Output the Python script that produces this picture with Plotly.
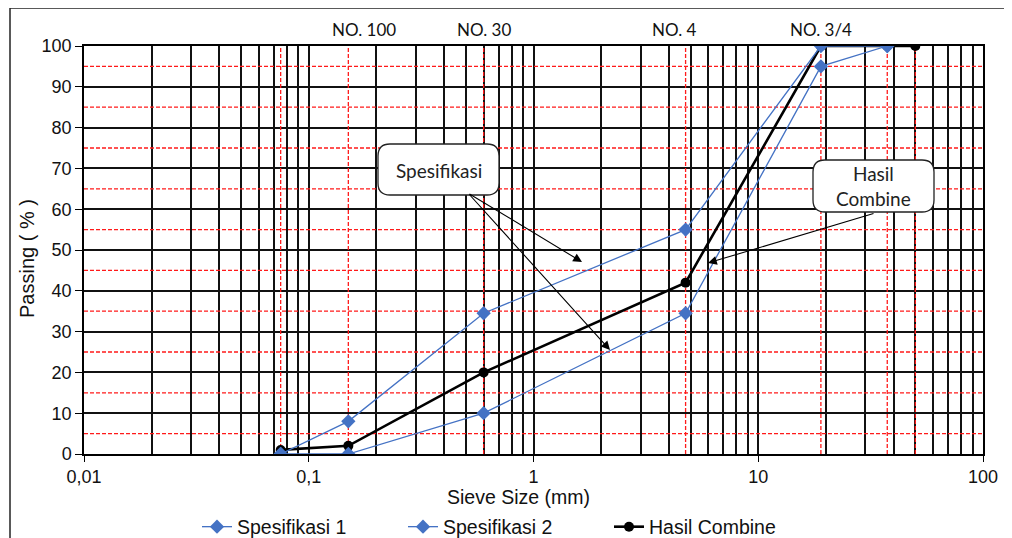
import math
import plotly.graph_objects as go

# ---- data ----
sieve_mm = [0.075, 0.15, 0.6, 4.75, 19, 37.5]
spek1 = [0, 8, 34.5, 55, 100, 100]
spek2 = [0, 0, 10, 34.5, 95, 100]
combine_mm = [0.075, 0.15, 0.6, 4.75, 19, 37.5, 50]
combine = [1, 2, 20, 42, 100, 100, 100]
ref_lines_mm = [0.075, 0.15, 0.6, 4.75, 19, 37.5, 50]
sieve_names = ["NO. 100", "NO. 30", "NO. 4", "NO. 3/4"]
sieve_name_mm = [0.15, 0.6, 4.75, 19]
x_tickvals = [0.01, 0.1, 1, 10, 100]
x_ticktext = ["0,01", "0,1", "1", "10", "100"]
y_red = [5, 15, 25, 35, 45, 55, 65, 75, 85, 95]

OFF = 8  # page body margin
W, H = 1012, 538
L, T = 84 - OFF, 46 - OFF
pw, ph = 899, 408
R = W - L - pw
B = H - T - ph

def px_x(p):
    return (p - OFF - L) / pw

def px_y(p):
    return (T + ph - (p - OFF)) / ph

fig = go.Figure()

RED = "#ff1a1a"
for v in ref_lines_mm:
    fig.add_trace(go.Scatter(x=[v, v], y=[0, 100], mode="lines",
                             line=dict(color=RED, width=1.3, dash="4px,2px"),
                             showlegend=False, hoverinfo="skip"))
for v in y_red:
    fig.add_trace(go.Scatter(x=[0.01, 100], y=[v, v], mode="lines",
                             line=dict(color=RED, width=1.3, dash="4px,2px"),
                             showlegend=False, hoverinfo="skip"))

BLUE = "#4472c4"
fig.add_trace(go.Scatter(x=combine_mm, y=combine, mode="lines+markers",
                         name="Hasil Combine",
                         line=dict(color="black", width=2.6),
                         marker=dict(symbol="circle", size=10, color="black"),
                         legendrank=3))
fig.add_trace(go.Scatter(x=sieve_mm, y=spek1, mode="lines+markers",
                         name="Spesifikasi 1",
                         line=dict(color=BLUE, width=1.3),
                         marker=dict(symbol="diamond", size=11, color=BLUE),
                         legendrank=1))
fig.add_trace(go.Scatter(x=sieve_mm, y=spek2, mode="lines+markers",
                         name="Spesifikasi 2",
                         line=dict(color=BLUE, width=1.3),
                         marker=dict(symbol="diamond", size=11, color=BLUE),
                         legendrank=2))

minor_vals = []
for e in range(-2, 2):
    for d in range(2, 10):
        minor_vals.append(d * 10 ** e)

GRID = "#111111"
fig.update_xaxes(type="log", range=[-2, 2], tickvals=x_tickvals, ticktext=x_ticktext,
                 showgrid=True, gridcolor=GRID, gridwidth=1.5,
                 minor=dict(tickvals=minor_vals, showgrid=True, gridcolor=GRID,
                            gridwidth=1.5, ticks=""),
                 ticks="outside", ticklen=6, tickcolor="black",
                 showline=True, linecolor="black", linewidth=1.5, mirror=True,
                 tickfont=dict(family="Liberation Sans, Arial", size=18, color="#111"),
                 zeroline=False, automargin=False)
fig.update_yaxes(range=[0, 100], dtick=10, showgrid=True, gridcolor=GRID, gridwidth=1.5,
                 ticks="outside", ticklen=7, tickcolor="black",
                 showline=True, linecolor="black", linewidth=1.5, mirror=True,
                 tickfont=dict(family="Liberation Sans, Arial", size=18, color="#111"),
                 zeroline=False, automargin=False)

ann = []
ann.append(dict(text="Sieve Size (mm)", xref="paper", yref="paper",
                x=px_x(518), y=px_y(497), showarrow=False,
                xanchor="center", yanchor="middle",
                font=dict(family="Liberation Sans, Arial", size=19.5, color="#111")))
ann.append(dict(text="Passing ( % )", xref="paper", yref="paper",
                x=px_x(27), y=px_y(258), showarrow=False, textangle=-90,
                xanchor="center", yanchor="middle",
                font=dict(family="Liberation Sans, Arial", size=20, color="#111")))
label_shift = [0.07, 0.0, -0.05, 0.0]
for name, v, s in zip(sieve_names, sieve_name_mm, label_shift):
    ann.append(dict(text=name, xref="x", yref="paper", x=math.log10(v) + s,
                    y=px_y(30), showarrow=False, xanchor="center", yanchor="middle",
                    font=dict(family="Lato, Open Sans", size=17, color="#111")))
ann.append(dict(text="Spesifikasi", xref="paper", yref="paper",
                x=px_x(438.5), y=px_y(170), showarrow=False,
                xanchor="center", yanchor="middle",
                font=dict(family="Lato, Open Sans", size=19, color="#222")))
ann.append(dict(text="Hasil<br>Combine", xref="paper", yref="paper",
                x=px_x(873.5), y=px_y(186), showarrow=False,
                xanchor="center", yanchor="middle",
                font=dict(family="Lato, Open Sans", size=19, color="#222")))
for hx, hy, axp, ayp in [(582, 262, -114, -69), (610, 350, -142, -157), (708, 263, 167, -50)]:
    ann.append(dict(text="", xref="paper", yref="paper", x=px_x(hx), y=px_y(hy),
                    ax=axp, ay=ayp, showarrow=True, arrowhead=2, arrowsize=1.6,
                    arrowwidth=1.1, arrowcolor="black"))

def rrect(x0, y0, x1, y1, r):
    X = lambda p: px_x(p)
    Y = lambda p: px_y(p)
    return (f"M {X(x0 + r)} {Y(y0)} L {X(x1 - r)} {Y(y0)} Q {X(x1)} {Y(y0)} {X(x1)} {Y(y0 + r)} "
            f"L {X(x1)} {Y(y1 - r)} Q {X(x1)} {Y(y1)} {X(x1 - r)} {Y(y1)} "
            f"L {X(x0 + r)} {Y(y1)} Q {X(x0)} {Y(y1)} {X(x0)} {Y(y1 - r)} "
            f"L {X(x0)} {Y(y0 + r)} Q {X(x0)} {Y(y0)} {X(x0 + r)} {Y(y0)} Z")

shapes = [
    dict(type="path", xref="paper", yref="paper", path=rrect(378, 144, 499, 195, 12),
         fillcolor="white", line=dict(color="#222", width=1.3), layer="above"),
    dict(type="path", xref="paper", yref="paper", path=rrect(813, 160, 934, 212, 12),
         fillcolor="white", line=dict(color="#222", width=1.3), layer="above"),
    dict(type="line", xref="paper", yref="paper", x0=px_x(10), x1=px_x(1030),
         y0=px_y(8), y1=px_y(8), line=dict(color="#222", width=1.5)),
    dict(type="line", xref="paper", yref="paper", x0=px_x(10), x1=px_x(10),
         y0=px_y(8), y1=px_y(560), line=dict(color="#222", width=1.5)),
]

fig.update_layout(
    width=W, height=H,
    margin=dict(l=L, r=R, t=T, b=B, autoexpand=False),
    paper_bgcolor="white", plot_bgcolor="white",
    annotations=ann, shapes=shapes,
    showlegend=True,
    legend=dict(orientation="h", x=px_x(197), y=px_y(527), xanchor="left", yanchor="middle",
                font=dict(family="Liberation Sans, Arial", size=19.5, color="#111"),
                entrywidth=161, entrywidthmode="pixels", bgcolor="rgba(0,0,0,0)",
                traceorder="normal"),
)

fig.write_html("out.html")
